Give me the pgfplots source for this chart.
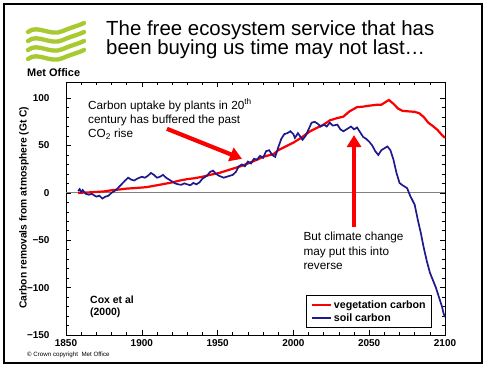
\documentclass[border=0pt]{standalone}
\usepackage{fontspec}
\setmainfont{Liberation Sans}
\usepackage{pgfplots}
\pgfplotsset{compat=1.18}
\usetikzlibrary{arrows.meta}
\definecolor{vegred}{RGB}{250,0,0}
\definecolor{soilblue}{RGB}{30,26,140}
\definecolor{logogreen}{RGB}{168,202,48}
\begin{document}
\begin{tikzpicture}
\useasboundingbox (0,0) rectangle (488bp,369bp);
\begin{axis}[
  at={(66bp,34bp)}, anchor=south west,
  scale only axis, width=379bp, height=253bp,
  xmin=1850, xmax=2100, ymin=-150, ymax=117,
  xtick={1850,1900,1950,2000,2050,2100},
  xticklabels={1850,1900,1950,2000,2050,2100},
  ytick={-150,-100,-50,0,50,100},
  yticklabels={−150,−100,−50,0,50,100},
  minor x tick num=4, minor y tick num=4,
  tick align=inside,
  major tick length=5bp, minor tick length=3bp,
  axis line style={line width=0.9bp, black},
  tick style={black, line width=0.6bp},
  ticklabel style={font=\fontsize{10}{12}\selectfont\bfseries},
  yticklabel style={xshift=-13bp},
  xticklabel style={yshift=-1bp},
  legend style={at={(0.966,0.158)}, anchor=north east, draw=black, line width=0.8bp,
    font=\fontsize{10.7}{12}\selectfont\bfseries, inner xsep=4bp, inner ysep=3bp,
    row sep=0bp},
  legend cell align=left,
  legend image code/.code={\draw[#1] (0bp,0bp) -- (19bp,0bp);},
  clip=false,
]
\draw[gray, line width=0.9bp] (axis cs:1850,0) -- (axis cs:2100,0);
\addplot[vegred, line width=2.2bp, no marks] coordinates {
(1858,0) (1865,0.5) (1870,1) (1875,1.5) (1881,3) (1885,3.5) (1890,4.5) (1895,5) (1903,6)
(1910,8) (1915,9.5) (1920,11) (1925,13) (1930,14.5) (1935,15.5) (1940,17) (1945,19)
(1951,21) (1955,23) (1960,25.5) (1965,28) (1970,31) (1976,35) (1980,38) (1987,41)
(1990,45) (1995,49) (2000,53) (2005,58) (2011,65) (2016,69) (2020,72) (2024,76.5)
(2028,78.5) (2033,80.5) (2037,86) (2042,90.5) (2046,91) (2050,92) (2055,93) (2058,93)
(2060,95) (2063,98) (2066,94) (2069,89) (2072,86.5) (2076,86) (2080,85.5) (2083,84)
(2086,80) (2089,74) (2092,70.5) (2095,66.5) (2098,61) (2100,58)
};
\addlegendentry{vegetation carbon}
\addplot[soilblue, line width=1.7bp, no marks] coordinates {
(1858,2) (1859,4) (1860,1) (1861,3) (1863,-1) (1865,-2) (1867,-1) (1870,-4) (1872,-3)
(1874,-6) (1876,-4) (1878,-3) (1880,0) (1883,3) (1886,8) (1889,13) (1891,16) (1893,14)
(1895,13) (1897,15) (1900,17) (1902,16) (1904,18) (1906,21) (1908,19) (1910,16)
(1912,17) (1914,19) (1916,16) (1918,14) (1920,12) (1922,10) (1924,9) (1926,8.5)
(1928,10) (1930,9) (1932,8) (1934,10.5) (1936,9) (1938,11) (1940,15) (1943,18)
(1945,22) (1947,23.5) (1949,20) (1951,18) (1954,16) (1956,17) (1958,18) (1960,19)
(1962,22) (1964,28) (1966,30) (1968,28) (1970,33) (1972,31) (1974,36) (1976,35)
(1978,39) (1980,37) (1982,44) (1984,45) (1986,40) (1988,38) (1990,48) (1992,57)
(1994,62) (1996,63) (1998,65) (2000,62) (2001,58) (2003,63) (2006,56) (2008,60)
(2010,67) (2012,74) (2014,75) (2016,73) (2018,70) (2020,72) (2022,70) (2024,74)
(2026,71) (2029,72) (2031,67) (2033,65) (2036,68) (2038,70) (2040,67) (2042,69)
(2044,64) (2046,59) (2048,57) (2050,54) (2052,50) (2054,44) (2056,40) (2058,45)
(2060,47) (2062,49) (2064,45) (2066,35) (2068,21) (2070,10.5) (2072,8) (2075,5)
(2077,-3) (2080,-12.5) (2082,-28) (2084,-42) (2086,-58) (2088,-72) (2090,-84)
(2092,-92) (2094,-100) (2096,-110) (2098,-120) (2099,-127) (2100,-131)
};
\addlegendentry{soil carbon}
\draw[vegred, line width=4.2bp, -{Triangle[length=12bp, width=14bp]}]
  (axis cs:1916.6,67.6) -- (axis cs:1966.1,35.9);
\draw[vegred, line width=4.2bp, -{Triangle[length=12bp, width=14bp]}]
  (axis cs:2040,-36) -- (axis cs:2040,61);
\end{axis}
\node[rotate=90, inner sep=0pt, font=\fontsize{10.3}{12}\selectfont\bfseries] at (24bp,161.5bp) {Carbon removals from atmosphere (Gt C)};
\begin{scope}[x=1bp, y=-1bp, yshift=369bp]
  \draw[black, line width=1.4bp] (4,4) rectangle (482,363);
  % logo
  \foreach \yy in {32,41,50,59} {
    \draw[logogreen, line width=4.3bp, line cap=round]
      (28,\yy) .. controls (38,{\yy-8}) and (50,{\yy+5}) .. (63,{\yy-1})
      .. controls (72,{\yy-5}) and (78,{\yy-6}) .. (84,{\yy-9});
  }
  \node[anchor=base west, inner sep=0pt, font=\fontsize{11}{12}\selectfont\bfseries] at (27,76.5) {Met Office};
  % title
  \node[anchor=base west, inner sep=0pt, font=\fontsize{20.5}{24}\selectfont] at (106,35.5) {The free ecosystem service that has};
  \node[anchor=base west, inner sep=0pt, font=\fontsize{20.5}{24}\selectfont] at (106,55) {been buying us time may not last\ldots};
  % annotation 1
  \node[anchor=base west, inner sep=0pt, font=\fontsize{11.8}{14}\selectfont] at (88,109.3) {Carbon uptake by plants in 20\textsuperscript{th}};
  \node[anchor=base west, inner sep=0pt, font=\fontsize{11.8}{14}\selectfont] at (88,123.3) {century has buffered the past};
  \node[anchor=base west, inner sep=0pt, font=\fontsize{11.8}{14}\selectfont] at (88,137.3) {CO\textsubscript{2} rise};
  % annotation 2
  \node[anchor=base west, inner sep=0pt, font=\fontsize{11.8}{14}\selectfont] at (303.3,240.7) {But climate change};
  \node[anchor=base west, inner sep=0pt, font=\fontsize{11.8}{14}\selectfont] at (303.3,255.3) {may put this into};
  \node[anchor=base west, inner sep=0pt, font=\fontsize{11.8}{14}\selectfont] at (303.3,270) {reverse};
  % Cox et al
  \node[anchor=base west, inner sep=0pt, font=\fontsize{10.5}{12}\selectfont\bfseries] at (90,304) {Cox et al};
  \node[anchor=base west, inner sep=0pt, font=\fontsize{10.5}{12}\selectfont\bfseries] at (90,316) {(2000)};
  % copyright
  \node[anchor=base west, inner sep=0pt, font=\fontsize{6.2}{7}\selectfont] at (27,357) {© Crown copyright\ \ Met Office};
\end{scope}
\end{tikzpicture}
\end{document}
